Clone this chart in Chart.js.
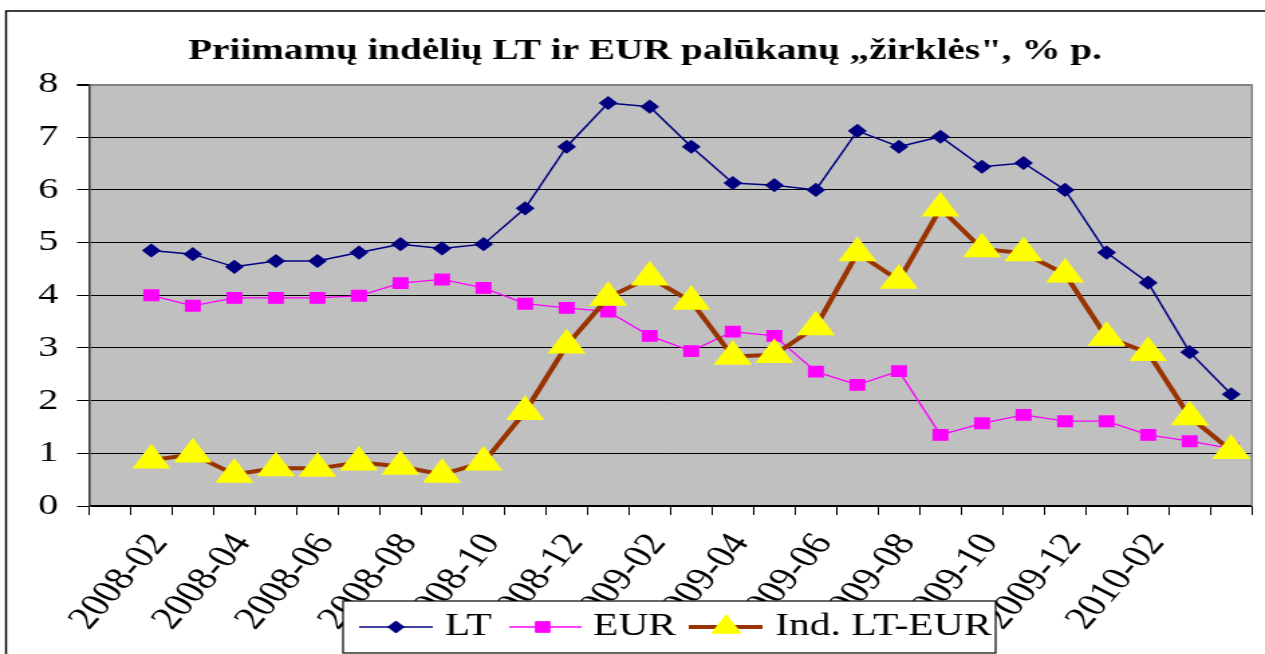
<!DOCTYPE html>
<html>
<head>
<meta charset="utf-8">
<script src="https://cdn.jsdelivr.net/npm/chart.js@4.4.0/dist/chart.umd.min.js"></script>
<style>
  html, body { margin: 0; padding: 0; background: #fff; overflow: hidden; }
  /* the original picture is stretched sideways, so the canvas is too */
  #wrap { position: absolute; left: 0; top: 0; width: 944px; height: 654px;
          transform: scaleX(1.34); transform-origin: 0 0; }
</style>
</head>
<body>
<div id="wrap"><canvas id="grafico" width="944" height="654"></canvas></div>
<script>
// Mėnesiai (pirmas tuščias, kaip Excel'io diagramoje)
const months = ['2008-01', '2008-02', '2008-03', '2008-04', '2008-05', '2008-06', '2008-07',
  '2008-08', '2008-09', '2008-10', '2008-11', '2008-12', '2009-01', '2009-02', '2009-03',
  '2009-04', '2009-05', '2009-06', '2009-07', '2009-08', '2009-09', '2009-10', '2009-11',
  '2009-12', '2010-01', '2010-02', '2010-03', '2010-04'];
const shownLabels = ['2008-02', '2008-04', '2008-06', '2008-08', '2008-10', '2008-12',
  '2009-02', '2009-04', '2009-06', '2009-08', '2009-10', '2009-12', '2010-02'];

const lt = [null, 4.85, 4.78, 4.54, 4.65, 4.65, 4.81, 4.97, 4.89, 4.97, 5.65, 6.82, 7.65, 7.58,
  6.82, 6.13, 6.09, 6.00, 7.12, 6.82, 7.01, 6.44, 6.51, 6.00, 4.81, 4.24, 2.92, 2.12];
const eur = [null, 4.00, 3.80, 3.95, 3.95, 3.95, 3.99, 4.23, 4.30, 4.14, 3.84, 3.76, 3.69, 3.23,
  2.94, 3.31, 3.23, 2.55, 2.30, 2.56, 1.35, 1.57, 1.73, 1.61, 1.61, 1.35, 1.23, 1.09];
const spread = [null, 0.87, 0.98, 0.60, 0.72, 0.71, 0.83, 0.75, 0.60, 0.83, 1.79, 3.05, 3.96, 4.34,
  3.88, 2.84, 2.87, 3.40, 4.80, 4.28, 5.65, 4.88, 4.80, 4.40, 3.20, 2.91, 1.69, 1.05];

const yMin = 0, yMax = 8;

const serif = "'Liberation Serif', 'Times New Roman', serif";

// pilkas fonas ir rėmeliai
const plotFrame = {
  id: 'plotFrame',
  beforeDraw(chart) {
    const { ctx, chartArea: a } = chart;
    ctx.save();
    ctx.fillStyle = '#c0c0c0';
    ctx.fillRect(a.left, a.top, a.right - a.left, a.bottom - a.top);
    ctx.strokeStyle = '#000';
    ctx.lineWidth = 1.5;
    ctx.beginPath();
    ctx.moveTo(4.5, chart.height);
    ctx.lineTo(4.5, 11);
    ctx.lineTo(chart.width, 11);
    ctx.stroke();
    ctx.restore();
  },
  beforeDatasetsDraw(chart) {
    const { ctx, chartArea: a } = chart;
    ctx.save();
    ctx.strokeStyle = '#808080';
    ctx.lineWidth = 1.5;
    ctx.beginPath();
    ctx.moveTo(a.right, a.top);
    ctx.lineTo(a.right, a.bottom);
    ctx.stroke();
    ctx.restore();
  }
};

// legenda su baltu fonu, uždengia dalį ašies užrašų
const legendBox = {
  id: 'legendBox',
  afterDraw(chart) {
    const ctx = chart.ctx;
    const items = [
      { line: [268, 323], mark: 295.5, text: 332 },
      { line: [380, 434], mark: 405, text: 442.5 },
      { line: [514, 569], mark: 542, text: 578.5 }
    ];
    const y = 627;
    ctx.save();
    ctx.fillStyle = '#fff';
    ctx.fillRect(256, 601, 487, 52);
    ctx.strokeStyle = '#000';
    ctx.lineWidth = 1.2;
    ctx.strokeRect(256, 601, 487, 52);
    chart.data.datasets.forEach((ds, i) => {
      const it = items[i];
      ctx.strokeStyle = ds.borderColor;
      ctx.lineWidth = ds.borderWidth;
      ctx.beginPath();
      ctx.moveTo(it.line[0], y);
      ctx.lineTo(it.line[1], y);
      ctx.stroke();
      ctx.fillStyle = ds.pointBackgroundColor;
      ctx.strokeStyle = ds.pointBorderColor;
      ctx.lineWidth = 1;
      Chart.helpers.drawPoint(ctx, {
        pointStyle: ds.pointStyle, radius: ds.pointRadius, rotation: 0, borderWidth: 1
      }, it.mark, y);
      ctx.fillStyle = '#000';
      ctx.font = '31px ' + serif;
      ctx.textBaseline = 'middle';
      ctx.textAlign = 'left';
      ctx.fillText(ds.label, it.text, y);
    });
    ctx.restore();
  }
};

new Chart(document.getElementById('grafico'), {
  type: 'line',
  data: {
    labels: months,
    datasets: [
      {
        label: 'LT',
        data: lt,
        order: 3,
        borderColor: '#000080',
        borderWidth: 1.5,
        pointStyle: 'rectRot',
        pointRadius: 6,
        pointBackgroundColor: '#000080',
        pointBorderColor: '#000080',
        tension: 0
      },
      {
        label: 'EUR',
        data: eur,
        order: 2,
        borderColor: '#ff00ff',
        borderWidth: 1.3,
        pointStyle: 'rect',
        pointRadius: 7.5,
        pointBackgroundColor: '#ff00ff',
        pointBorderColor: '#ff00ff',
        tension: 0
      },
      {
        label: 'Ind. LT-EUR',
        data: spread,
        order: 1,
        borderColor: '#993300',
        borderWidth: 4,
        pointStyle: 'triangle',
        pointRadius: 12.5,
        pointBackgroundColor: '#ffff00',
        pointBorderColor: '#ffff00',
        tension: 0
      }
    ]
  },
  options: {
    responsive: false,
    animation: false,
    layout: { autoPadding: false, padding: { left: 28.4, right: 9.7, top: 0, bottom: 0 } },
    plugins: {
      legend: { display: false },
      tooltip: { enabled: false },
      title: {
        display: true,
        text: 'Priimamų indėlių LT ir EUR palūkanų „žirklės", % p.',
        color: '#000',
        font: { family: serif, size: 29.2, weight: 'bold' },
        padding: { top: 33.5, bottom: 16 }
      }
    },
    scales: {
      x: {
        offset: true,
        afterFit: s => { s.paddingLeft = 0; s.paddingRight = 0; s.height = 148; },
        grid: {
          offset: true,
          drawOnChartArea: false,
          color: '#000',
          tickLength: 9
        },
        border: { color: '#000', width: 1.5 },
        ticks: {
          autoSkip: false,
          minRotation: 56,
          maxRotation: 56,
          padding: 12,
          labelOffset: 6,
          color: '#000',
          font: { family: serif, size: 32 },
          callback: function (value, index) {
            const m = months[index];
            return shownLabels.includes(m) ? m : '';
          }
        }
      },
      y: {
        min: yMin,
        max: yMax,
        afterFit: s => { s.width = 38; },
        grid: {
          color: ctx => ctx.tick.value === yMax ? '#808080' : '#000',
          lineWidth: ctx => ctx.tick.value === yMax ? 2 : 1,
          tickColor: '#000',
          tickLength: 9
        },
        border: { color: '#333', width: 1.5 },
        ticks: {
          stepSize: 1,
          padding: 14,
          color: '#000',
          font: { family: serif, size: 30 }
        }
      }
    }
  },
  plugins: [plotFrame, legendBox]
});
</script>
</body>
</html>
